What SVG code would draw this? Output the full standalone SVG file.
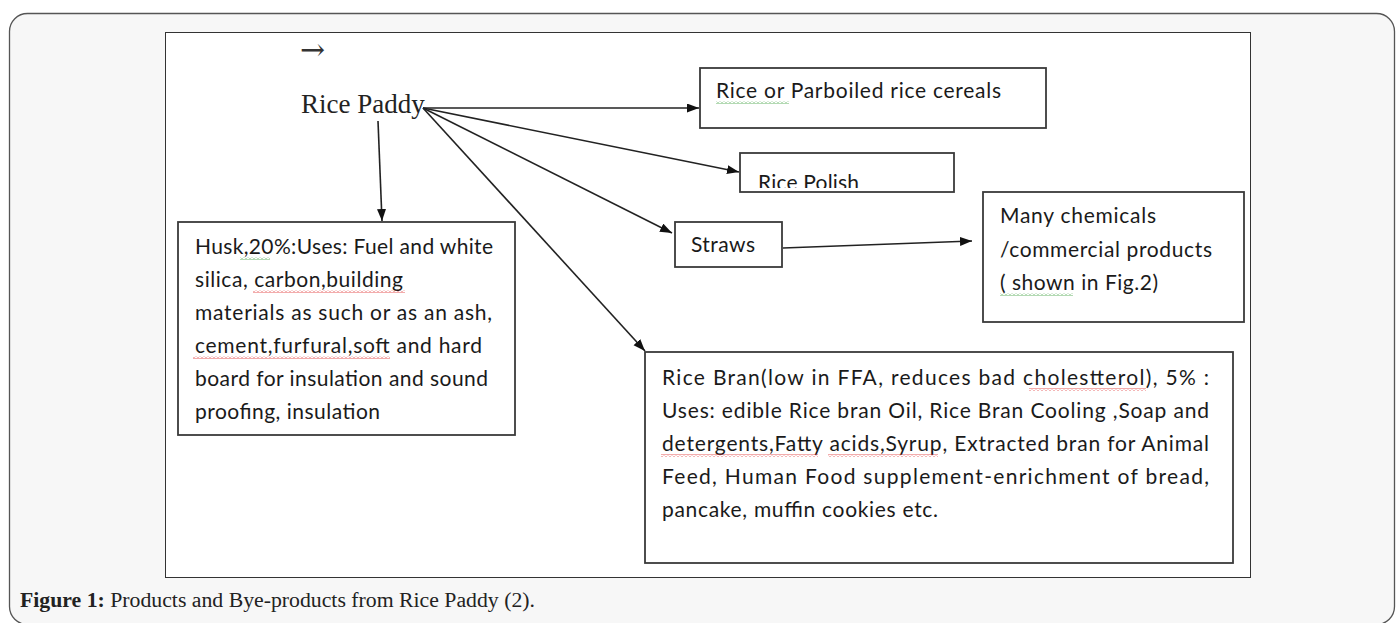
<svg xmlns="http://www.w3.org/2000/svg" width="1396" height="623" viewBox="0 0 1396 623">
<style>
.box{fill:#fff;stroke:#3a3a3a;stroke-width:1.8}
.t{font-family:Lato,"Open Sans",sans-serif;font-size:21px;fill:#1a1a1a}
.line{stroke:#222;stroke-width:1.6;fill:none}
.red{fill:url(#wr)}
.grn{fill:url(#wg)}
</style>
<defs>
<marker id="ah" markerUnits="userSpaceOnUse" markerWidth="14" markerHeight="11" refX="12" refY="4.5" orient="auto">
<path d="M0,0 L12,4.5 L0,9 z" fill="#111"/>
</marker>
<pattern id="wr" patternUnits="userSpaceOnUse" width="4" height="3">
<path d="M0,2.5 L2,0.5 L4,2.5" fill="none" stroke="#e03030" stroke-width="0.8"/>
</pattern>
<pattern id="wg" patternUnits="userSpaceOnUse" width="4" height="3">
<path d="M0,2.5 L2,0.5 L4,2.5" fill="none" stroke="#40a040" stroke-width="0.8"/>
</pattern>
<clipPath id="polishClip"><rect x="741" y="154" width="212" height="34"/></clipPath>
</defs>
<rect x="9.5" y="13.5" width="1385" height="611" rx="18" fill="#f7f7f7" stroke="#555" stroke-width="1.3"/>
<rect x="165.5" y="32.5" width="1085" height="545" fill="#fff" stroke="#333" stroke-width="1"/>
<text x="300" y="60" font-family="'DejaVu Serif','Liberation Serif',serif" font-size="30" fill="#333">→</text>

<g id="connectors">
<line class="line" x1="423" y1="108" x2="699" y2="108" marker-end="url(#ah)"/>
<line class="line" x1="423" y1="108" x2="739" y2="172" marker-end="url(#ah)"/>
<line class="line" x1="423" y1="108" x2="672" y2="233" marker-end="url(#ah)"/>
<line class="line" x1="423" y1="108" x2="645" y2="351" marker-end="url(#ah)"/>
<line class="line" x1="378" y1="121" x2="382" y2="221" marker-end="url(#ah)"/>
<line class="line" x1="783" y1="248" x2="972" y2="241" marker-end="url(#ah)"/>
</g>

<g id="rice-paddy">
<text x="301" y="113" font-family="'Liberation Serif','DejaVu Serif',serif" font-size="27" fill="#222">Rice Paddy</text>
</g>

<g id="rice-cereals">
<rect class="box" x="700" y="68" width="346" height="60"/>
<text class="t" x="716" y="98" textLength="285" lengthAdjust="spacing">Rice  or Parboiled rice cereals</text>
<rect class="grn" x="716" y="101" width="73" height="3"/>
</g>

<g id="rice-polish">
<rect class="box" x="740" y="153" width="214" height="39"/>
<text class="t" x="758" y="190" textLength="101" lengthAdjust="spacing" clip-path="url(#polishClip)">Rice Polish</text>
</g>

<g id="straws">
<rect class="box" x="675" y="222" width="107" height="45"/>
<text class="t" x="691" y="252" textLength="64" lengthAdjust="spacing">Straws</text>
</g>

<g id="many-chemicals">
<rect class="box" x="983" y="192" width="261" height="130"/>
<text class="t" x="1000" y="223" textLength="156" lengthAdjust="spacing">Many chemicals</text>
<text class="t" x="1000" y="257" textLength="212" lengthAdjust="spacing">/commercial products</text>
<text class="t" x="1000" y="290" textLength="158" lengthAdjust="spacing">( shown  in Fig.2)</text>
<rect class="grn" x="1000" y="293" width="73" height="3"/>
</g>

<g id="husk">
<rect class="box" x="178" y="222" width="337" height="213"/>
<text class="t" x="195" y="254" textLength="298" lengthAdjust="spacing">Husk,20%:Uses:  Fuel and white</text>
<text class="t" x="195" y="287" textLength="208" lengthAdjust="spacing">silica, carbon,building</text>
<text class="t" x="195" y="320" textLength="297" lengthAdjust="spacing">materials  as such or as an ash,</text>
<text class="t" x="195" y="353" textLength="287" lengthAdjust="spacing">cement,furfural,soft and hard</text>
<text class="t" x="195" y="386" textLength="293" lengthAdjust="spacing">board for insulation  and sound</text>
<text class="t" x="195" y="419" textLength="185" lengthAdjust="spacing">proofing, insulation</text>
<rect class="grn" x="240" y="257" width="30" height="3"/>
<rect class="red" x="253" y="290" width="152" height="3"/>
<rect class="red" x="193" y="356" width="197" height="3"/>
</g>

<g id="rice-bran">
<rect class="box" x="645" y="352" width="588" height="211"/>
<text class="t" x="662" y="385" textLength="547" lengthAdjust="spacing">Rice Bran(low in FFA, reduces bad cholestterol), 5% :</text>
<text class="t" x="662" y="418" textLength="547" lengthAdjust="spacing">Uses: edible Rice bran Oil, Rice Bran Cooling ,Soap and</text>
<text class="t" x="662" y="451" textLength="547" lengthAdjust="spacing">detergents,Fatty acids,Syrup, Extracted bran for Animal</text>
<text class="t" x="662" y="484" textLength="547" lengthAdjust="spacing">Feed, Human Food supplement-enrichment of bread,</text>
<text class="t" x="662" y="517" textLength="276" lengthAdjust="spacing">pancake, muffin cookies etc.</text>
<rect class="red" x="1029" y="388" width="117" height="3"/>
<rect class="red" x="661" y="454" width="157" height="3"/>
<rect class="red" x="828" y="454" width="110" height="3"/>
</g>

<text x="20" y="607" font-family="'Liberation Serif','DejaVu Serif',serif" font-size="20" fill="#222" textLength="515" lengthAdjust="spacingAndGlyphs"><tspan font-weight="bold">Figure 1:</tspan> Products and Bye-products from Rice Paddy (2).</text>
</svg>
